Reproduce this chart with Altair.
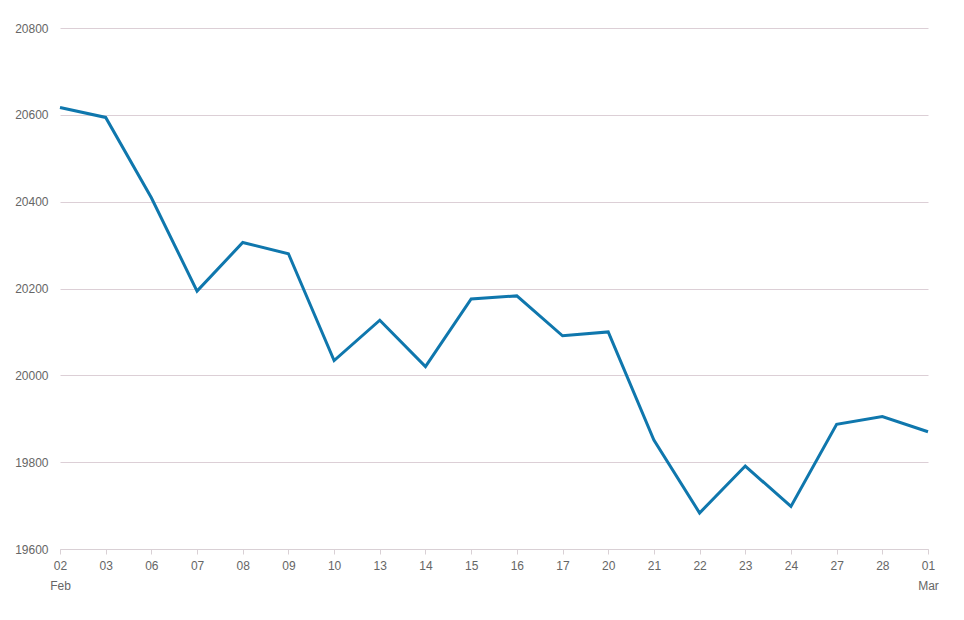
import altair as alt
import pandas as pd

days = ["02", "03", "06", "07", "08", "09", "10", "13", "14", "15",
        "16", "17", "20", "21", "22", "23", "24", "27", "28", "01"]
months = ["Feb", "", "", "", "", "", "", "", "", "",
          "", "", "", "", "", "", "", "", "", "Mar"]
values = [20617, 20594, 20409, 20194, 20306, 20280, 20034, 20127, 20020, 20176,
          20183, 20091, 20100, 19851, 19683, 19791, 19698, 19887, 19905, 19870]

df = pd.DataFrame({"day": days, "month": months, "value": values})

label_expr = " : ".join(
    [f"datum.value == '{d}' ? ['{d}', '{m}']" for d, m in zip(days, months) if m]
) + " : datum.value"

line = alt.Chart(df).mark_line(color="#0f77ad", strokeWidth=3).encode(
    x=alt.X("day:O", sort=days, title=None,
            scale=alt.Scale(type="point", padding=0),
            axis=alt.Axis(labelAngle=0, labelExpr=label_expr, grid=False,
                          domainColor="#d9d0d5", tickColor="#d9d0d5", tickSize=5,
                          labelColor="#666666", labelFontSize=12, labelPadding=6,
                          labelFont="Liberation Sans", labelLineHeight=20)),
    y=alt.Y("value:Q", title=None,
            scale=alt.Scale(domain=[19600, 20800], nice=False, zero=False),
            axis=alt.Axis(values=[19600, 19800, 20000, 20200, 20400, 20600, 20800],
                          format="d",
                          domain=False, ticks=False, gridColor="#dccfd6",
                          labelColor="#666666", labelFontSize=12, labelPadding=12,
                          labelFont="Liberation Sans")),
)

chart = line.properties(
    width=868, height=521,
    autosize=alt.AutoSizeParams(type="none"),
    padding={"left": 52, "top": 20, "right": 28, "bottom": 50},
    background="white",
).configure_view(stroke=None)

chart.save("out.html", embed_options={"renderer": "svg", "actions": False})
